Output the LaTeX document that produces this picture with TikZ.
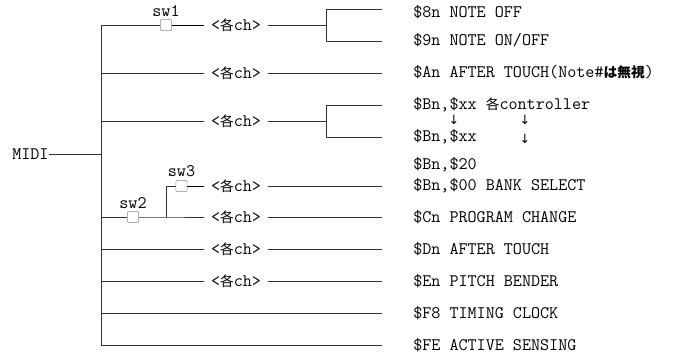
\documentclass[tikz,border=0pt]{standalone}
\usepackage{fontspec}
\newfontfamily\jpfont[Scale=0.78]{Noto Sans CJK JP}
\newfontfamily\arrowfont{DejaVu Sans}
\usetikzlibrary{positioning}
\newcommand\jp[1]{{\jpfont #1}}
\tikzset{
  wire/.style={draw=black!80, line width=0.6pt},
  wirebold/.style={draw=black, line width=0.75pt},
  swbox/.style={draw=black!45, fill=white, minimum size=8.5pt, inner sep=0pt, rounded corners=1pt},
  lbl/.style={font=\ttfamily\fontsize{13.2}{15}\selectfont, inner sep=0pt},
  chlbl/.style={lbl, inner xsep=5pt},
  txt/.style={lbl, anchor=base west},
  arw/.style={font=\arrowfont\fontsize{9.5}{11}\selectfont, inner sep=0pt},
}
\begin{document}
\begin{tikzpicture}[x=0.75pt, y=-0.75pt]
  \useasboundingbox (0,0) rectangle (682,358);

  % MIDI and trunk
  \node[txt] (midi) at (12,159.5) {MIDI};
  \coordinate (m) at (101,155);
  \coordinate (j1) at (101,25);
  \coordinate (j2) at (101,73);
  \coordinate (j3) at (101,121);
  \coordinate (j5) at (101,217);
  \coordinate (j6) at (101,249);
  \coordinate (j7) at (101,281);
  \coordinate (j8) at (101,313);
  \coordinate (j9) at (101,345);
  \draw[wire] (j1) -- (j9);
  \draw[wire] (midi.east) -- (midi.east -| m);

  % line ends on the right
  \coordinate (e1) at (382,9);
  \coordinate (e2) at (382,41);
  \coordinate (e3) at (382,73);
  \coordinate (e4) at (382,105);
  \coordinate (e5) at (382,137);
  \coordinate (e6) at (382,186);
  \coordinate (e7) at (382,217);
  \coordinate (e8) at (382,249);
  \coordinate (e9) at (382,281);
  \coordinate (e10) at (382,313);
  \coordinate (e11) at (382,345);

  % switches
  \node[swbox] (sw1) at (166,25) {};
  \node[lbl, above=2pt of sw1] (sw1l) {sw1};
  \node[swbox] (sw2) at (133,217) {};
  \node[lbl, above=2pt of sw2] (sw2l) {sw2};
  \node[swbox] (sw3) at (181.5,186) {};
  \node[lbl, above=2pt of sw3] (sw3l) {sw3};
  \coordinate (k) at (166,217);

  % channel labels
  \node[chlbl] (ch1) at (236,25) {<\jp{各}ch>};
  \node[chlbl] (ch2) at (236,73) {<\jp{各}ch>};
  \node[chlbl] (ch3) at (236,121) {<\jp{各}ch>};
  \node[chlbl] (ch4) at (236,186) {<\jp{各}ch>};
  \node[chlbl] (ch5) at (236,217) {<\jp{各}ch>};
  \node[chlbl] (ch6) at (236,249) {<\jp{各}ch>};
  \node[chlbl] (ch7) at (236,281) {<\jp{各}ch>};

  % row 1 with bracket
  \draw[wire] (j1) -- (sw1);
  \draw[wirebold] (sw1) -- (sw1 -| ch1.west);
  \draw[wire] (ch1.east |- j1) -- (326,25) coordinate (b1);
  \draw[wire] (e1) -- (e1 -| b1) -- (e2 -| b1) -- (e2);

  % row 2
  \draw[wire] (j2) -- (j2 -| ch2.west);
  \draw[wire] (ch2.east |- j2) -- (e3);

  % row 3 with bracket
  \draw[wire] (j3) -- (j3 -| ch3.west);
  \draw[wire] (ch3.east |- j3) -- (326,121) coordinate (b3);
  \draw[wire] (e4) -- (e4 -| b3) -- (e5 -| b3) -- (e5);

  % sw2 / sw3
  \draw[wire] (j5) -- (sw2);
  \draw[wire] (sw2) -- (k) -- (k -| ch5.west);
  \draw[wire] (k) |- (sw3);
  \draw[wirebold] (sw3) -- (sw3 -| ch4.west);
  \draw[wire] (ch4.east |- sw3) -- (e6);
  \draw[wire] (ch5.east |- k) -- (e7);

  % rows 6 to 9
  \draw[wire] (j6) -- (j6 -| ch6.west);
  \draw[wire] (ch6.east |- j6) -- (e8);
  \draw[wire] (j7) -- (j7 -| ch7.west);
  \draw[wire] (ch7.east |- j7) -- (e9);
  \draw[wire] (j8) -- (e10);
  \draw[wire] (j9) -- (e11);

  % messages
  \node[txt] (t1) at (413,17.5) {\$8n NOTE OFF};
  \node[txt] (t2) at (413,45.5) {\$9n NOTE ON/OFF};
  \node[txt] (t3) at (413,77.5) {\$An AFTER TOUCH(Note\#{\jpfont\bfseries は無視})};
  \node[txt] (t4) at (413,109.5) {\$Bn,\$xx \jp{各}controller};
  \node[txt] (t5) at (413,141.5) {\$Bn,\$xx};
  \node[txt] (t6) at (413,169) {\$Bn,\$20};
  \node[txt] (t7) at (413,190.5) {\$Bn,\$00 BANK SELECT};
  \node[txt] (t8) at (413,222.5) {\$Cn PROGRAM CHANGE};
  \node[txt] (t9) at (413,254.5) {\$Dn AFTER TOUCH};
  \node[txt] (t10) at (413,286.5) {\$En PITCH BENDER};
  \node[txt] (t11) at (413,318.5) {\$F8 TIMING CLOCK};
  \node[txt] (t12) at (413,350.5) {\$FE ACTIVE SENSING};

  % arrows
  \node[arw] (a1) at (454,120) {↓};
  \node[arw] (a2) at (525,120) {↓};
  \node[arw] (a3) at (525,139) {↓};
\end{tikzpicture}
\end{document}
